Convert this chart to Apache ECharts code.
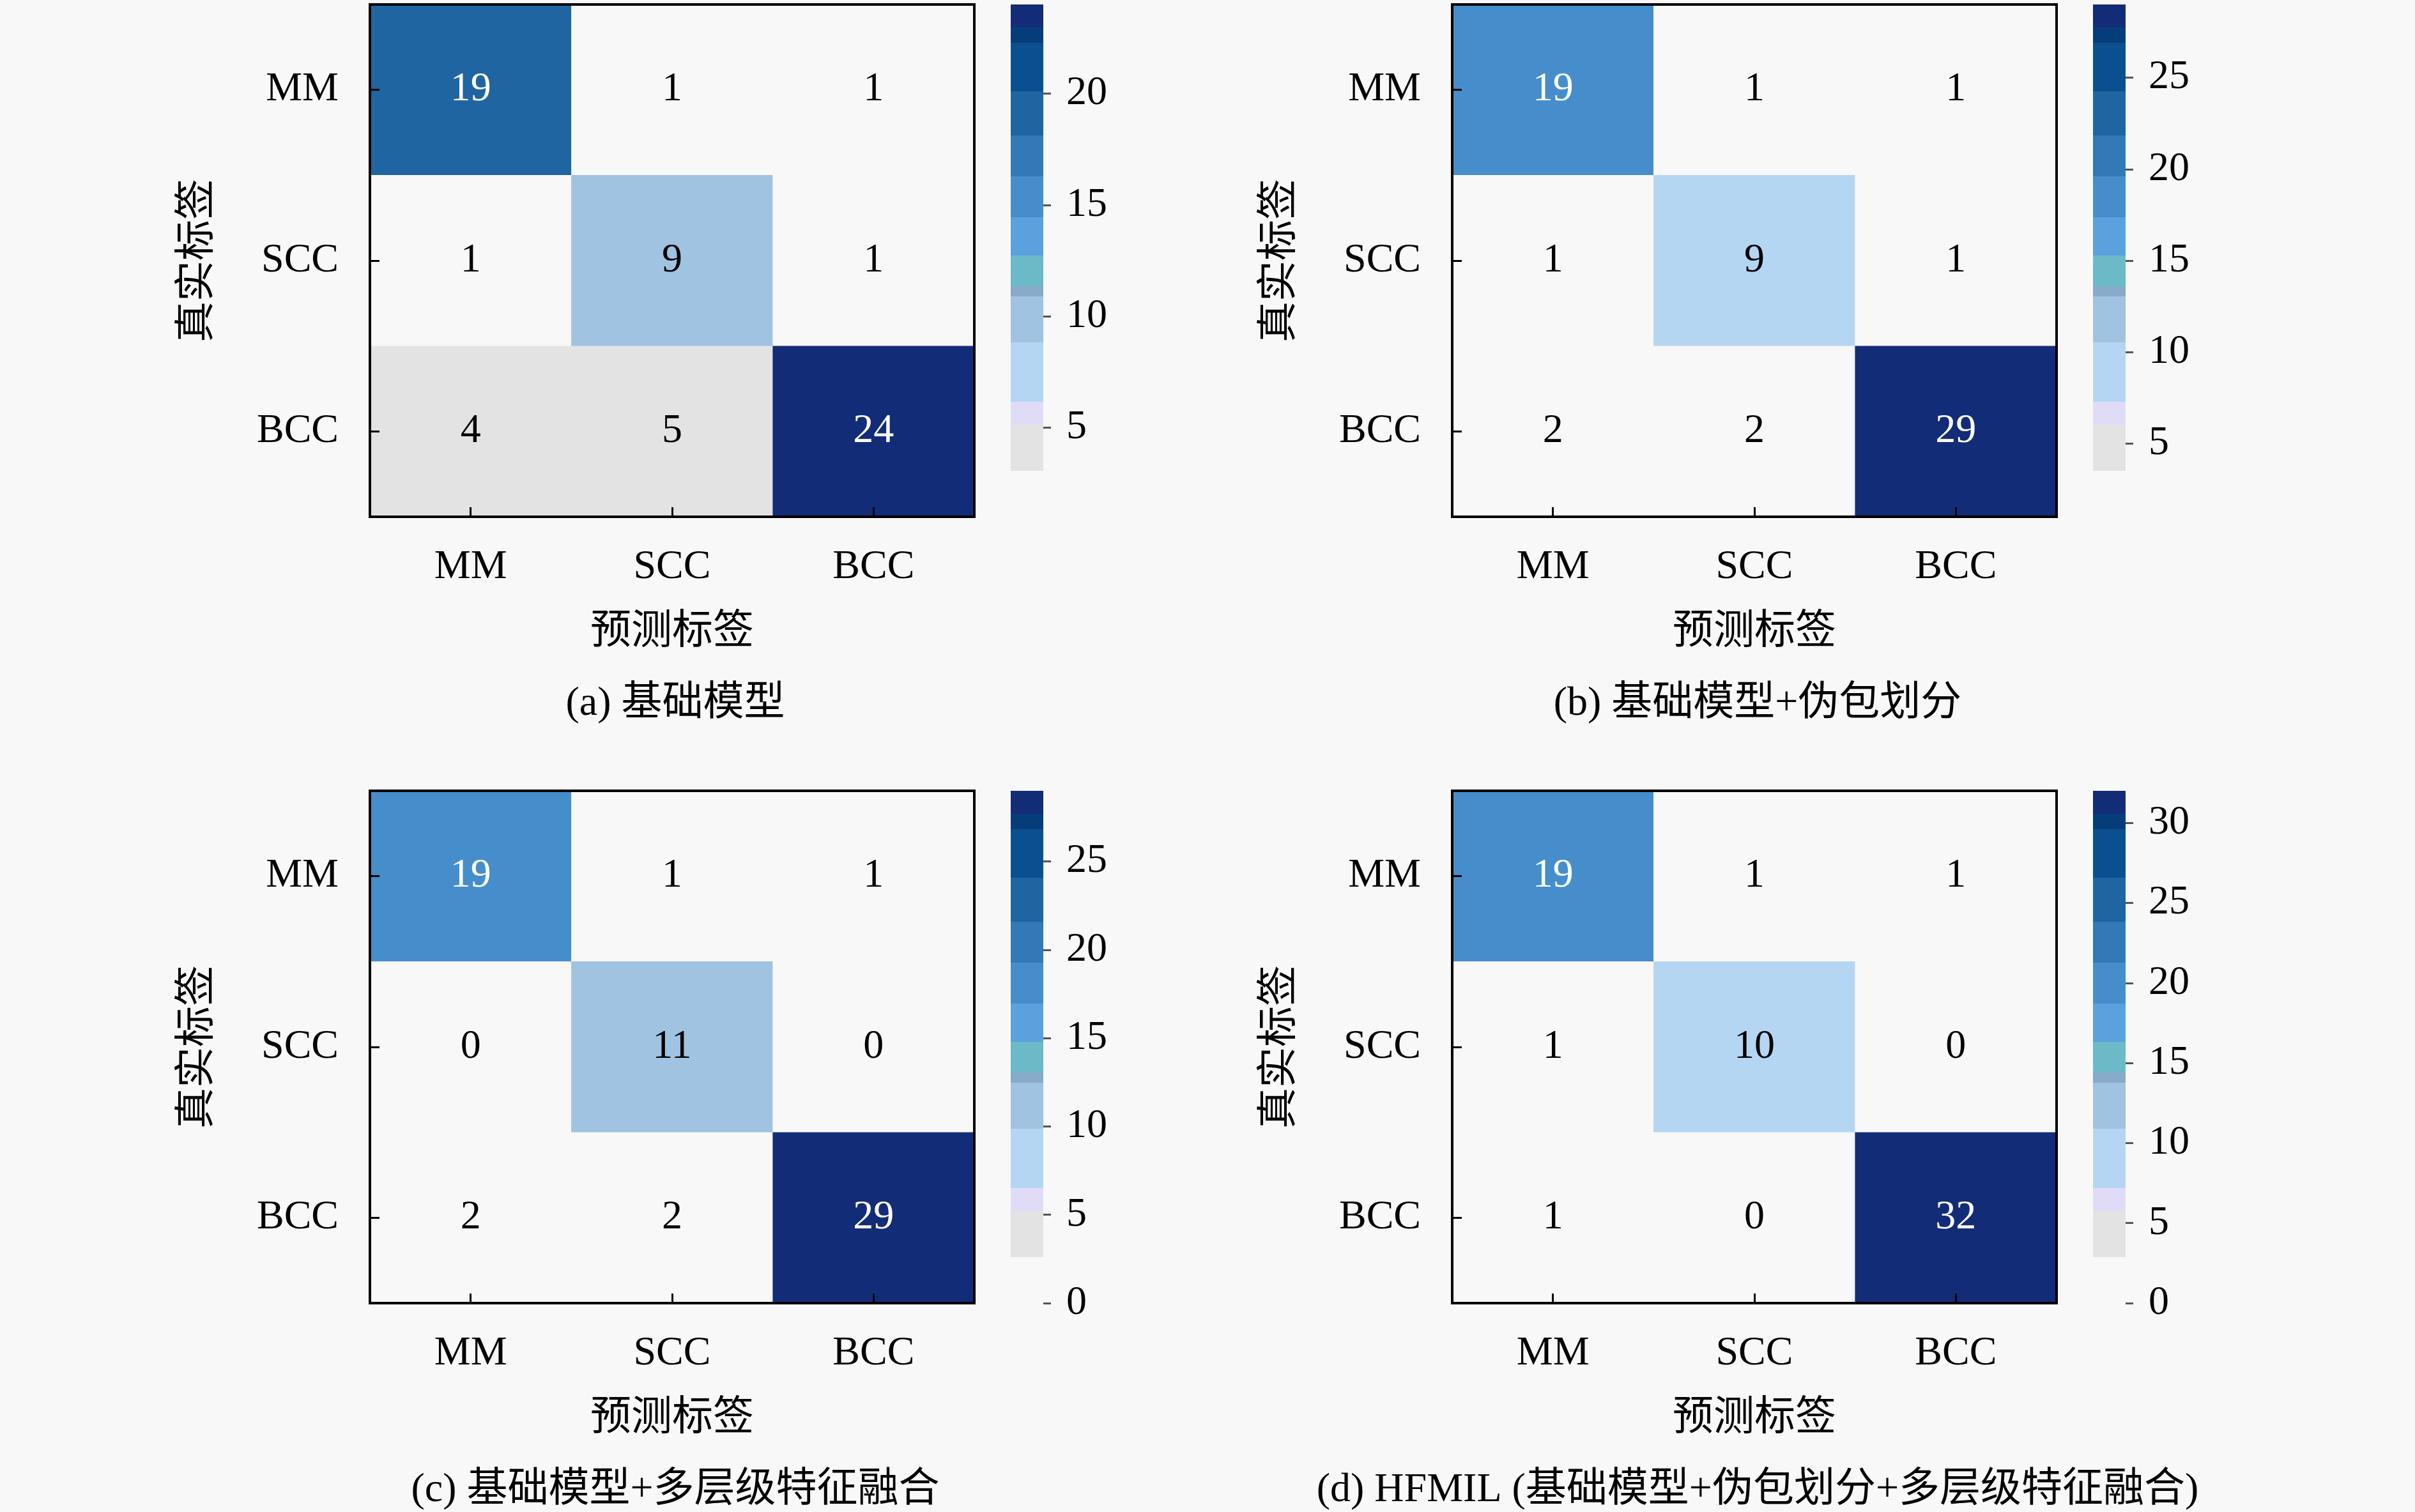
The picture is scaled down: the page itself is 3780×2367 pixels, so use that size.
<!DOCTYPE html>
<html>
<head>
<meta charset="utf-8">
<title>混淆矩阵</title>
<script src="https://cdn.jsdelivr.net/npm/echarts@6/dist/echarts.min.js"></script>
<style>
  html, body { margin: 0; padding: 0; background: #f8f8f8; }
  #chart { width: 3780px; height: 2367px; }
</style>
</head>
<body>
<div id="chart"></div>
<script>
// 类别
const classes = ['MM', 'SCC', 'BCC']

// 四个混淆矩阵 (行: 真实标签, 列: 预测标签)
const cmBase = [[19, 1, 1], [1, 9, 1], [4, 5, 24]]
const cmBag = [[19, 1, 1], [1, 9, 1], [2, 2, 29]]
const cmFusion = [[19, 1, 1], [0, 11, 0], [2, 2, 29]]
const cmHfmil = [[19, 1, 1], [1, 10, 0], [1, 0, 32]]

// 子图标题
const captions = [
  '(a) 基础模型',
  '(b) 基础模型+伪包划分',
  '(c) 基础模型+多层级特征融合',
  '(d) HFMIL (基础模型+伪包划分+多层级特征融合)'
]

// 色条刻度
const cbarTicks = [
  [5, 10, 15, 20],
  [5, 10, 15, 20, 25],
  [0, 5, 10, 15, 20, 25],
  [0, 5, 10, 15, 20, 25, 30]
]

const matrices = [cmBase, cmBag, cmFusion, cmHfmil]

// 分段色带 (归一化位置 0..1)
const bands = [
  [0.000, 0.090, '#f8f8f8'],
  [0.090, 0.180, '#e3e3e3'],
  [0.180, 0.225, '#e0dcf8'],
  [0.225, 0.340, '#b5d6f3'],
  [0.340, 0.430, '#a0c3e1'],
  [0.430, 0.450, '#87abc9'],
  [0.450, 0.510, '#6cbac8'],
  [0.510, 0.585, '#5aa2dd'],
  [0.585, 0.665, '#458ecb'],
  [0.665, 0.745, '#3179b7'],
  [0.745, 0.830, '#1f65a1'],
  [0.830, 0.925, '#0a5090'],
  [0.925, 0.955, '#053d7b'],
  [0.955, 1.000, '#132c78']
]

const FONT = "'Liberation Serif', 'Noto Sans CJK SC', serif"
const BOX_W = 946, BOX_H = 802
const panels = [
  {left: 579, top: 7},
  {left: 2273, top: 7},
  {left: 579, top: 1238},
  {left: 2273, top: 1238}
]

let grid = [], xAxis = [], yAxis = [], series = [], visualMap = [], title = []

matrices.forEach((m, i) => {
  const flat = m.flat()
  const vmin = Math.min(...flat), vmax = Math.max(...flat)
  const range = vmax - vmin
  const mid = (vmin + vmax) / 2
  const p = panels[i]
  const cbarLeft = p.left + 1003

  // 热力图
  grid.push({
    left: p.left, top: p.top, width: BOX_W, height: BOX_H,
    show: true, z: 10, backgroundColor: 'transparent',
    borderColor: '#000', borderWidth: 4
  })
  // 色条
  grid.push({left: cbarLeft, top: p.top, width: 51, height: BOX_H, show: false})

  const gi = grid.length - 2
  xAxis.push({
    gridIndex: gi, type: 'category', data: classes, position: 'bottom', z: 12,
    name: '预测标签', nameLocation: 'middle', nameGap: 149,
    nameTextStyle: {fontSize: 64, fontFamily: FONT, color: '#000'},
    axisLine: {show: false},
    axisTick: {show: true, inside: true, alignWithLabel: true, length: 15, lineStyle: {color: '#000', width: 3}},
    axisLabel: {fontSize: 64, fontFamily: FONT, color: '#000', margin: 47},
    splitLine: {show: false}
  })
  yAxis.push({
    gridIndex: gi, type: 'category', data: classes, inverse: true, z: 12,
    name: '真实标签', nameLocation: 'middle', nameGap: 237,
    nameTextStyle: {fontSize: 64, fontFamily: FONT, color: '#000'},
    axisLine: {show: false},
    axisTick: {show: true, inside: true, alignWithLabel: true, length: 15, lineStyle: {color: '#000', width: 3}},
    axisLabel: {fontSize: 64, fontFamily: FONT, color: '#000', margin: 49},
    splitLine: {show: false}
  })
  xAxis.push({gridIndex: gi + 1, type: 'category', data: [''], show: false})
  yAxis.push({
    gridIndex: gi + 1, type: 'value', position: 'right', min: vmin, max: vmax,
    axisLine: {show: false},
    axisTick: {show: true, inside: false, length: 12, customValues: cbarTicks[i], lineStyle: {color: '#555', width: 3}},
    axisLabel: {fontSize: 64, fontFamily: FONT, color: '#000', margin: 36, customValues: cbarTicks[i]},
    splitLine: {show: false}
  })

  const data = []
  m.forEach((row, r) => row.forEach((v, c) => {
    data.push({value: [c, r, v], label: {color: v > mid ? '#fff' : '#000'}})
  }))
  series.push({
    type: 'heatmap', xAxisIndex: gi, yAxisIndex: gi, data: data,
    label: {show: true, fontSize: 64, fontFamily: FONT},
    emphasis: {disabled: true}, silent: true
  })

  visualMap.push({
    type: 'piecewise', show: false, seriesIndex: series.length - 1, dimension: 2,
    pieces: bands.map((b, k) => ({
      gte: vmin + b[0] * range,
      lt: k === bands.length - 1 ? vmax + 1 : vmin + b[1] * range,
      color: b[2]
    }))
  })

  // 色条: 透明底柱 + 渐变柱
  const stops = []
  for (let k = bands.length - 1; k >= 0; k--) {
    stops.push({offset: 1 - bands[k][1], color: bands[k][2]})
    stops.push({offset: 1 - bands[k][0], color: bands[k][2]})
  }
  series.push({
    type: 'bar', xAxisIndex: gi + 1, yAxisIndex: gi + 1, stack: 'cb' + i,
    data: [vmin], barWidth: '100%', silent: true,
    itemStyle: {color: 'transparent'}
  })
  series.push({
    type: 'bar', xAxisIndex: gi + 1, yAxisIndex: gi + 1, stack: 'cb' + i,
    data: [range], barWidth: '100%', silent: true,
    itemStyle: {color: new echarts.graphic.LinearGradient(0, 0, 0, 1, stops)}
  })

  title.push({
    text: captions[i], left: p.left + BOX_W / 2, top: p.top + BOX_H + 256,
    textAlign: 'center',
    textStyle: {fontSize: 64, fontWeight: 'normal', fontFamily: FONT, color: '#000'}
  })
})

const chart = echarts.init(document.getElementById('chart'), null, {renderer: 'canvas'})
chart.setOption({
  backgroundColor: '#f8f8f8',
  animation: false,
  textStyle: {fontFamily: FONT},
  title: title,
  grid: grid,
  xAxis: xAxis,
  yAxis: yAxis,
  visualMap: visualMap,
  series: series
})
</script>
</body>
</html>
